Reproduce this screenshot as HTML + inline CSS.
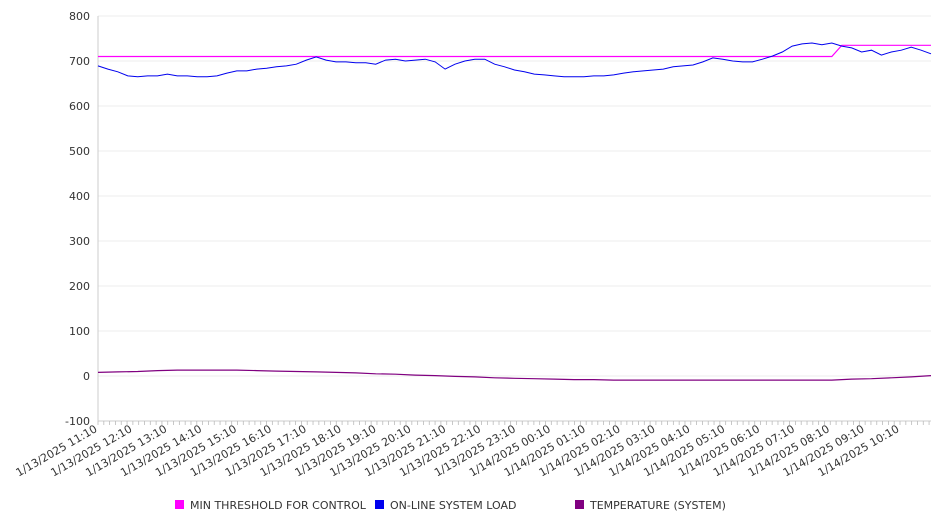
<!DOCTYPE html>
<html><head><meta charset="utf-8"><style>
body{margin:0;background:#fff;font-family:"DejaVu Sans","Liberation Sans",sans-serif}
svg text{font-family:"DejaVu Sans","Liberation Sans",sans-serif;fill:#333}
</style></head><body>
<svg id="chart" width="946" height="526" viewBox="0 0 946 526" xmlns="http://www.w3.org/2000/svg">
<g id="grid"></g>
<g id="axes"></g>
<g id="series"></g>
<g font-size="11">
<rect x="175" y="500" width="9" height="9" fill="#ff00ff"/>
<text x="190" y="509">MIN THRESHOLD FOR CONTROL</text>
<rect x="375" y="500" width="9" height="9" fill="#0000ee"/>
<text x="390" y="509">ON-LINE SYSTEM LOAD</text>
<rect x="575" y="500" width="9" height="9" fill="#800080"/>
<text x="590" y="509">TEMPERATURE (SYSTEM)</text>
</g>
</svg>
<script>
const yTicks=[-100,0,100,200,300,400,500,600,700,800];
const xLabels=["1/13/2025 11:10","1/13/2025 12:10","1/13/2025 13:10","1/13/2025 14:10","1/13/2025 15:10","1/13/2025 16:10","1/13/2025 17:10","1/13/2025 18:10","1/13/2025 19:10","1/13/2025 20:10","1/13/2025 21:10","1/13/2025 22:10","1/13/2025 23:10","1/14/2025 00:10","1/14/2025 01:10","1/14/2025 02:10","1/14/2025 03:10","1/14/2025 04:10","1/14/2025 05:10","1/14/2025 06:10","1/14/2025 07:10","1/14/2025 08:10","1/14/2025 09:10","1/14/2025 10:10"];
const loadValues=[689,682,676,667,665,667,667,671,667,667,665,665,667,673,678,678,682,684,687,689,693,702,709,702,698,698,696,696,693,702,704,700,702,704,698,682,693,700,704,704,693,687,680,676,671,669,667,665,665,665,667,667,669,673,676,678,680,682,687,689,691,698,707,704,700,698,698,704,711,720,733,738,740,736,740,733,729,720,724,713,720,724,731,724,716];
const thresholdValues=[710,710,710,710,710,710,710,710,710,710,710,710,710,710,710,710,710,710,710,710,710,710,710,710,710,710,710,710,710,710,710,710,710,710,710,710,710,710,710,710,710,710,710,710,710,710,710,710,710,710,710,710,710,710,710,710,710,710,710,710,710,710,710,710,710,710,710,710,710,710,710,710,710,710,710,735,735,735,735,735,735,735,735,735,735];
const temperatureValues=[8,9,10,12,13,13,13,13,12,11,10,9,8,7,5,4,2,1,-1,-2,-4,-5,-6,-7,-8,-8,-9,-9,-9,-9,-9,-9,-9,-9,-9,-9,-9,-9,-7,-6,-4,-2,1];

const NS="http://www.w3.org/2000/svg";
const X0=98,X1=931,Y0=16,Y1=421,VMIN=-100,VMAX=800;
function yS(v){return Y1-(v-VMIN)/(VMAX-VMIN)*(Y1-Y0);}
function xFrac(f){return X0+f*(X1-X0);}
const hourPx=34.87;
function mk(tag,attrs,parent){const e=document.createElementNS(NS,tag);for(const k in attrs)e.setAttribute(k,attrs[k]);parent.appendChild(e);return e;}
const grid=document.getElementById('grid'),axes=document.getElementById('axes'),series=document.getElementById('series');
yTicks.forEach(v=>{
  const l=mk('line',{x1:X0,x2:X1,y1:yS(v),y2:yS(v),stroke:'#ececec','stroke-width':1},grid);
  
  
  const t=mk('text',{x:X0-8,y:yS(v)+4,'text-anchor':'end','font-size':11},axes);
  t.textContent=v;
  
  
});
const ax=mk('line',{x1:X0,x2:X0,y1:Y0,y2:Y1,stroke:'#ccc'},axes);


const bx=mk('line',{x1:X0,x2:X1,y1:Y1,y2:Y1,stroke:'#ccc'},axes);


for(let x=X0;x<=X1;x+=hourPx/6){
  const tk=mk('line',{x1:x,x2:x,y1:Y1,y2:Y1+4,stroke:'#bbb','stroke-width':0.8},axes);
  
  
}
xLabels.forEach((s,i)=>{
  const x=X0+i*hourPx;
  const t=mk('text',{x:x,y:Y1+10,'text-anchor':'end','font-size':11,transform:`rotate(-30 ${x} ${Y1+10})`},axes);
  t.textContent=s;
  
  
});
function line(vals,color,name,w){
  const pts=vals.map((v,i)=>xFrac(i/(vals.length-1)).toFixed(1)+','+yS(v).toFixed(1)).join(' ');
  const p=mk('polyline',{points:pts,fill:'none',stroke:color,'stroke-width':w},series);
  
  
}
line(thresholdValues,'#ff00ff','threshold-line',1.2);
line(loadValues,'#0000ee','load-line',1);
line(temperatureValues,'#800080','temperature-line',1.2);
</script>
</body></html>
